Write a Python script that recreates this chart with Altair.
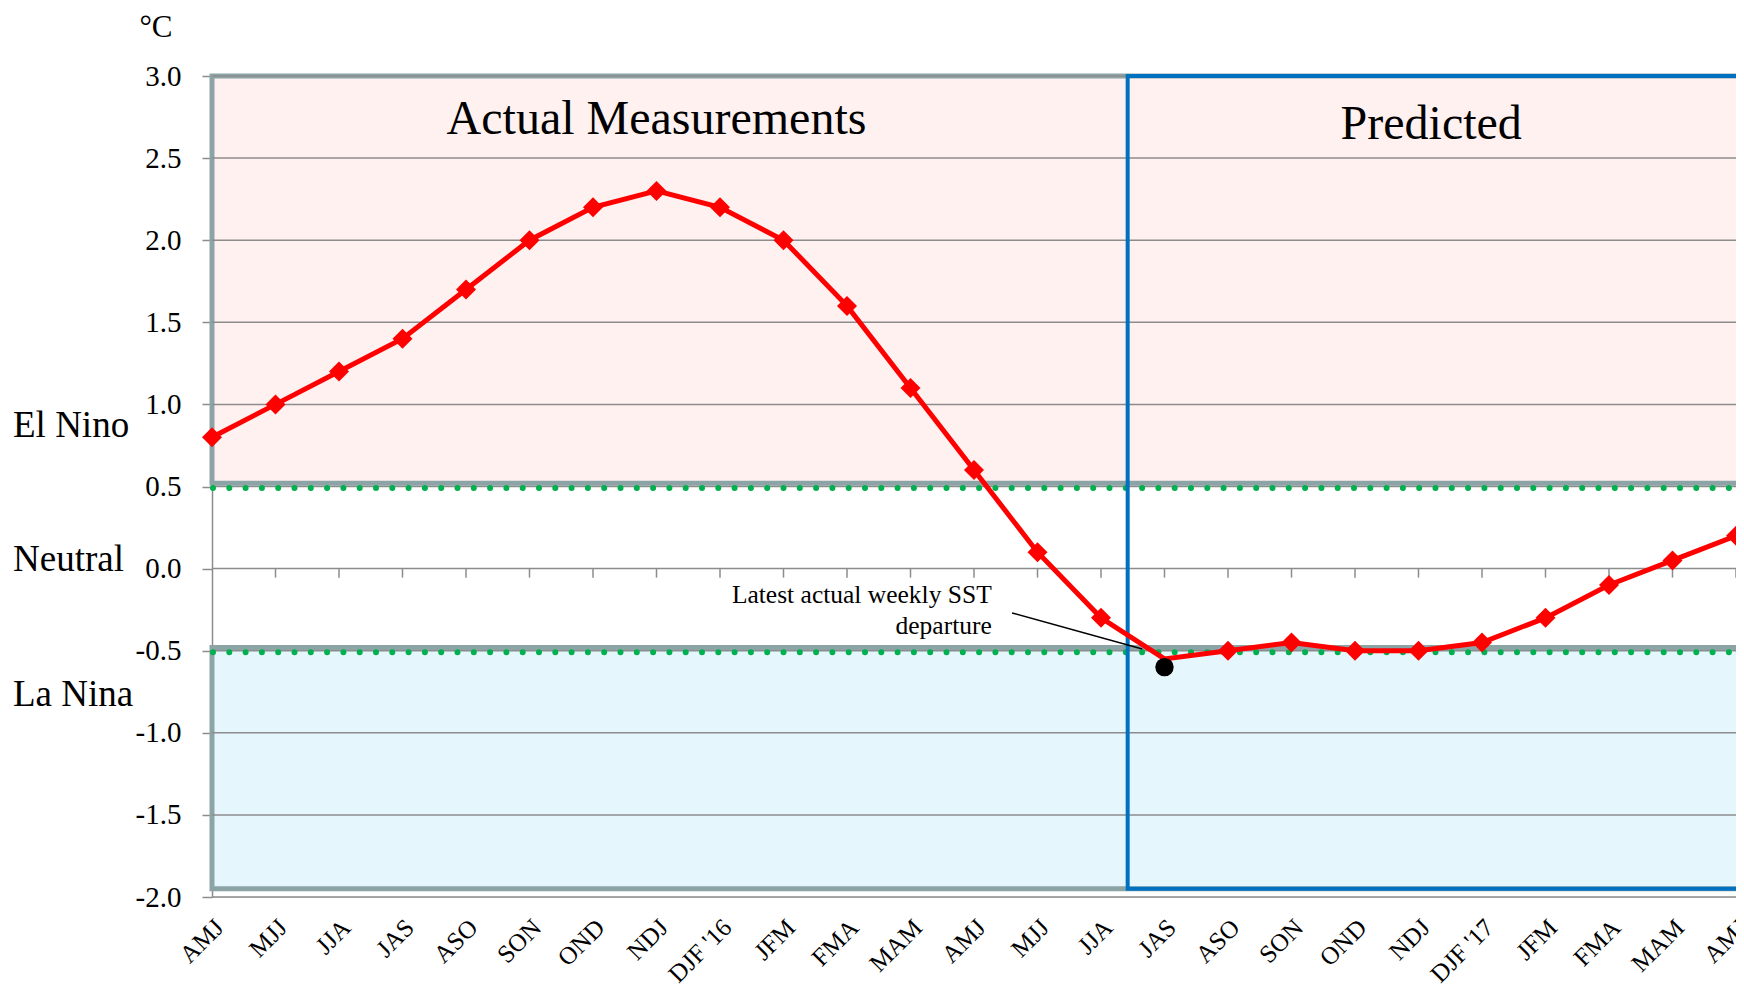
import json
import altair as alt
import pandas as pd

# ---- data ----
seasons = ["AMJ", "MJJ", "JJA", "JAS", "ASO", "SON", "OND", "NDJ", "DJF '16", "JFM",
           "FMA", "MAM", "AMJ", "MJJ", "JJA", "JAS", "ASO", "SON", "OND", "NDJ",
           "DJF '17", "JFM", "FMA", "MAM", "AMJ"]
sst = [0.8, 1.0, 1.2, 1.4, 1.7, 2.0, 2.2, 2.3, 2.2, 2.0,
       1.6, 1.1, 0.6, 0.1, -0.3, -0.55, -0.5, -0.45, -0.5, -0.5,
       -0.45, -0.3, -0.1, 0.05, 0.2]
latest_index = 15
latest_value = -0.6
y_ticks = [-2.0, -1.5, -1.0, -0.5, 0.0, 0.5, 1.0, 1.5, 2.0, 2.5, 3.0]
zone_names = ["El Nino", "La Nina"]
zone_low = [0.52, -1.95]
zone_high = [3.0, -0.48]
zone_fill = ["#FEF1F0", "#E5F6FD"]
threshold_values = [0.5, -0.5]
side_labels = ["El Nino", "Neutral", "La Nina"]
side_label_y = [0.87, 0.05, -0.77]
predicted_start = 14.42
section_titles = ["Actual Measurements", "Predicted"]
section_title_x = [7.0, 19.2]
section_title_y = [2.73, 2.70]
note_lines = ["Latest actual weekly SST", "departure"]
note_y = [-0.16, -0.35]
note_x = 12.28
leader_x = [12.6, 14.65]
leader_y = [-0.27, -0.49]

FONT = "Liberation Serif"
W, H = 1524, 821
n = len(seasons)

df = pd.DataFrame({"i": list(range(n)), "season": seasons, "v": sst})
xs = alt.Scale(domain=[0, n - 1], nice=False, zero=False)
ys = alt.Scale(domain=[-2, 3], nice=False, zero=False)

label_expr = json.dumps(seasons) + "[datum.value]"
y_label_expr = "(datum.value < 0 ? '-' : '') + format(abs(datum.value), '.1f')"

# zone rectangles
zones = pd.DataFrame({"name": zone_names, "lo": zone_low, "hi": zone_high,
                      "fill": zone_fill, "x0": [0] * 2, "x1": [n - 0.9] * 2})
zone_layer = alt.Chart(zones).mark_rect(stroke="#8DA4A7", strokeWidth=5).encode(
    x=alt.X("x0:Q", scale=xs, axis=alt.Axis(
        values=list(range(n)), labelExpr=label_expr, labelAngle=-45,
        labelAlign="right", labelBaseline="middle", labelFont=FONT,
        labelFontSize=25, labelColor="black", labelPadding=26, labelOffset=7,
        domain=False, ticks=False, grid=False, title=None, labelOverlap=False,
        orient="bottom")),
    x2="x1:Q",
    y=alt.Y("lo:Q", scale=ys, axis=alt.Axis(
        values=y_ticks, labelExpr=y_label_expr, labelFont=FONT, labelFontSize=29,
        labelColor="black", tickColor="#8C8C8C", tickWidth=1.5, tickSize=10,
        labelPadding=21, domainColor="#8C8C8C", domainWidth=1.5, grid=False,
        title=None)),
    y2="hi:Q",
    fill=alt.Fill("fill:N", scale=None),
)

# gridlines
grid_df = pd.DataFrame({"y": y_ticks})
grid_layer = alt.Chart(grid_df).mark_rule(color="#8C8C8C", strokeWidth=1.5).encode(
    y=alt.Y("y:Q", scale=ys), x=alt.value(0), x2=alt.value(W))

# small ticks on the zero line
tick_df = pd.DataFrame({"i": list(range(1, n)), "y0": [0.0] * (n - 1), "y1": [-0.055] * (n - 1)})
tick_layer = alt.Chart(tick_df).mark_rule(color="#8C8C8C", strokeWidth=1.5).encode(
    x=alt.X("i:Q", scale=xs), y=alt.Y("y0:Q", scale=ys), y2="y1:Q")

# green dotted thresholds
thr_df = pd.DataFrame({"y": threshold_values})
thr_layer = alt.Chart(thr_df).mark_rule(
    color="#00B050", strokeWidth=6, strokeDash=[0, 16.3], strokeCap="round",
    yOffset=1.5).encode(
    y=alt.Y("y:Q", scale=ys), x=alt.value(1), x2=alt.value(W))

# predicted box
pred_df = pd.DataFrame({"x0": [predicted_start], "x1": [n - 0.8], "y0": [3.0], "y1": [-1.95]})
pred_layer = alt.Chart(pred_df).mark_rect(
    fillOpacity=0, stroke="#0070C0", strokeWidth=4).encode(
    x=alt.X("x0:Q", scale=xs), x2="x1:Q", y=alt.Y("y0:Q", scale=ys), y2="y1:Q")

# red series
line_layer = alt.Chart(df).mark_line(color="#FF0000", strokeWidth=5).encode(
    x=alt.X("i:Q", scale=xs), y=alt.Y("v:Q", scale=ys))
pts_layer = alt.Chart(df).transform_filter(f"datum.i != {latest_index}").mark_point(
    shape="diamond", filled=True, color="#FF0000", size=400, opacity=1).encode(
    x=alt.X("i:Q", scale=xs), y=alt.Y("v:Q", scale=ys))

# leader line and latest dot
leader_df = pd.DataFrame({"x": leader_x, "y": leader_y, "o": [0, 1]})
leader_layer = alt.Chart(leader_df).mark_line(color="black", strokeWidth=1.5).encode(
    x=alt.X("x:Q", scale=xs), y=alt.Y("y:Q", scale=ys), order="o:Q")
dot_df = pd.DataFrame({"x": [latest_index], "y": [latest_value]})
dot_layer = alt.Chart(dot_df).mark_circle(color="black", size=340, opacity=1).encode(
    x=alt.X("x:Q", scale=xs), y=alt.Y("y:Q", scale=ys))

# texts
title_df = pd.DataFrame({"t": section_titles, "x": section_title_x, "y": section_title_y})
title_layer = alt.Chart(title_df).mark_text(font=FONT, fontSize=48, color="black").encode(
    x=alt.X("x:Q", scale=xs), y=alt.Y("y:Q", scale=ys), text="t:N")

note_df = pd.DataFrame({"t": note_lines, "y": note_y, "x": [note_x] * 2})
note_layer = alt.Chart(note_df).mark_text(font=FONT, fontSize=25.5, color="black", align="right").encode(
    x=alt.X("x:Q", scale=xs), y=alt.Y("y:Q", scale=ys), text="t:N")

side_df = pd.DataFrame({"t": side_labels, "y": side_label_y})
side_layer = alt.Chart(side_df).mark_text(font=FONT, fontSize=37, color="black", align="left").encode(
    x=alt.value(-199), y=alt.Y("y:Q", scale=ys), text="t:N")

unit_df = pd.DataFrame({"t": ["°C"], "y": [3.29]})
unit_layer = alt.Chart(unit_df).mark_text(font=FONT, fontSize=31, color="black").encode(
    x=alt.value(-56), y=alt.Y("y:Q", scale=ys), text="t:N")

chart = alt.layer(
    zone_layer, grid_layer, tick_layer, thr_layer, pred_layer,
    line_layer, pts_layer, leader_layer, dot_layer,
    title_layer, note_layer, side_layer, unit_layer,
).properties(
    width=W, height=H,
    autosize=alt.AutoSizeParams(type="none"),
    padding={"left": 204, "top": 68, "right": 0, "bottom": 96},
).configure_view(stroke=None).configure(background="white")

chart.save("out.html", embed_options={"renderer": "svg", "actions": False})
